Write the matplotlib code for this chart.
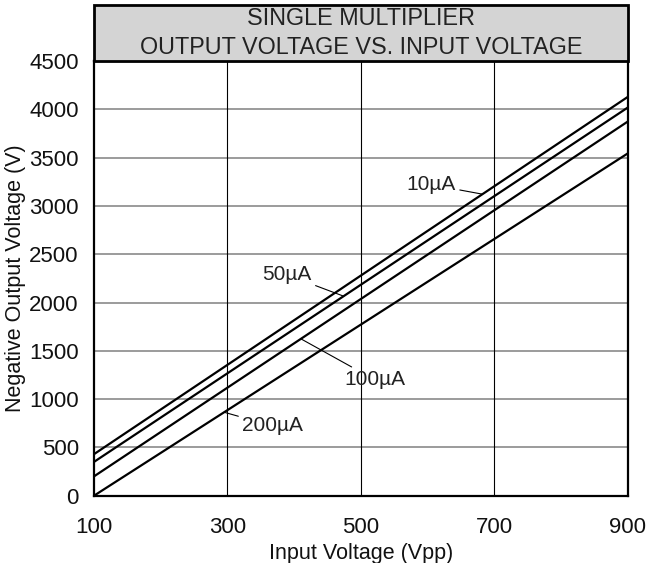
import numpy as np
import matplotlib
matplotlib.use('Agg')
import matplotlib.pyplot as plt
from matplotlib.patches import Rectangle

plt.rcParams['font.family'] = ['Liberation Sans', 'DejaVu Sans']

# Data
input_vpp = [100, 900]
curves = {
    '10µA': [430, 4130],
    '50µA': [350, 4020],
    '100µA': [200, 3875],
    '200µA': [0, 3545],
}
# where each leader line touches its curve (x), and where its label sits
label_touch_x = {'10µA': 682, '50µA': 474, '100µA': 410, '200µA': 295}
label_pos = {'10µA': (605, 3220), '50µA': (389, 2287),
             '100µA': (521, 1199), '200µA': (368, 722)}
x_ticks = [100, 300, 500, 700, 900]
y_ticks = list(range(0, 4501, 500))

fig = plt.figure(figsize=(6.49, 5.63), dpi=100)
ax = fig.add_axes([0.1448, 0.1195, 0.8228, 0.7721])

# grid: gray horizontals, black verticals
for yv in y_ticks[1:-1]:
    ax.axhline(yv, color='#808080', lw=1.1, zorder=1)
for xv in x_ticks[1:-1]:
    ax.axvline(xv, color='black', lw=0.8, zorder=1)

for name, vals in curves.items():
    ax.plot(input_vpp, vals, color='black', lw=1.6, zorder=3)
    tx = label_touch_x[name]
    ty = np.interp(tx, input_vpp, vals)
    ax.annotate(name, xy=(tx, ty), xytext=label_pos[name],
                ha='center', va='center', fontsize=15, color='#222222',
                arrowprops=dict(arrowstyle='-', color='black', lw=0.8,
                                shrinkA=1, shrinkB=0))

ax.set_xlim(100, 900)
ax.set_ylim(0, 4500)
ax.set_xticks(x_ticks)
ax.set_yticks(y_ticks)
ax.tick_params(length=0, labelsize=16, labelcolor='#111111')
ax.tick_params(axis='y', pad=11)
ax.tick_params(axis='x', pad=15)
for sp in ax.spines.values():
    sp.set_linewidth(1.6)

ax.set_xlabel('Input Voltage (Vpp)', fontsize=15.5, labelpad=4, color='#111111')
ax.set_ylabel('Negative Output Voltage (V)', fontsize=15.5, labelpad=2.5,
              color='#111111')

# gray title box above the plot area
box_h = 0.129
ax.add_patch(Rectangle((0, 1), 1, box_h, transform=ax.transAxes,
                       facecolor='#d4d4d4', edgecolor='black', lw=2,
                       clip_on=False, zorder=5))
ax.text(0.5, 1 + box_h / 2,
        'SINGLE MULTIPLIER\nOUTPUT VOLTAGE VS. INPUT VOLTAGE',
        transform=ax.transAxes, ha='center', va='center', fontsize=16.8,
        linespacing=1.3, color='#222222', zorder=6)

fig.savefig('out.png', dpi=100)
